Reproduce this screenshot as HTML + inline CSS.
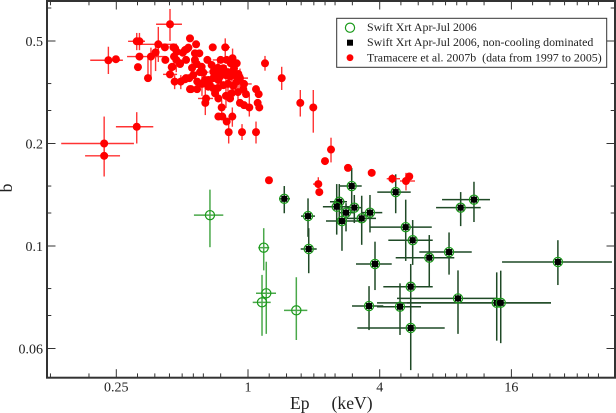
<!DOCTYPE html>
<html lang="en">
<head>
<meta charset="utf-8">
<title>b versus Ep</title>
<style>
html,body{margin:0;padding:0;background:#fff;}
svg{display:block;font-family:"Liberation Serif","Times New Roman",serif;}
text{fill:#222;white-space:pre;}
</style>
</head>
<body>
<svg id="chart" xmlns="http://www.w3.org/2000/svg" width="616" height="413" viewBox="0 0 616 413">
  <g id="marks"></g>
  <rect x="47" y="1" width="568" height="376.7" fill="none" stroke="#333" stroke-width="2"></rect>
  <g id="ticks"></g>
  <text x="290" y="409" font-size="17.6">Ep     (keV)</text>
  <text transform="translate(12,188) rotate(-90)" text-anchor="middle" font-size="17.6">b</text>
  <g>
    <rect x="336.7" y="18.3" width="270" height="49" fill="#fff" stroke="#333" stroke-width="1"></rect>
    <circle cx="350" cy="27.7" r="4.6" fill="none" stroke="#1a9a1a" stroke-width="1.2"></circle>
    <text x="367" y="31" font-size="11.9">Swift Xrt Apr-Jul 2006</text>
    <rect x="347" y="39.7" width="6" height="6" fill="#000"></rect>
    <text x="367" y="46" font-size="11.9">Swift Xrt Apr-Jul 2006, non-cooling dominated</text>
    <circle cx="350" cy="57.7" r="3.4" fill="#f00"></circle>
    <text x="367" y="61.5" font-size="11.9">Tramacere et al. 2007b  (data from 1997 to 2005)</text>
  </g>
</svg>
<script>
// Axis ticks and labels
const xMajorTicks = [0.25, 1, 4, 16];
const xMajorLabels = ["0.25", "1", "4", "16"];
const xMinorTicks = [0.125, 0.1875, 0.3125, 0.375, 0.4375, 0.5, 0.5625, 0.625, 0.75, 1.25, 1.5, 1.75, 2, 2.25, 2.5, 3, 5, 6, 7, 8, 9, 10, 12, 20, 24, 28, 32, 36, 40];
const yMajorTicks = [0.5, 0.25, 0.125, 0.0625];
const yMajorLabels = ["0.5", "0.2", "0.1", "0.06"];
const yMinorTicks = [0.625, 0.375, 0.3125, 0.1875, 0.15625, 0.09375, 0.078125];

// Swift XRT, all (green open circles) that are not in the non-cooling set
const greenEp = [0.670, 1.180, 1.212, 1.159, 1.663];
const greenB = [0.154, 0.1236, 0.0908, 0.0854, 0.0809];
const greenEpLo = [0.566, 1.114, 1.088, 1.051, 1.461];
const greenEpHi = [0.771, 1.251, 1.343, 1.270, 1.867];
const greenBLo = [0.124, 0.106, 0.0690, 0.0681, 0.0662];
const greenBHi = [0.183, 0.141, 0.1124, 0.1028, 0.1012];

// Swift XRT, non-cooling dominated (black squares inside green circles)
const blackEp = [1.465, 1.881, 1.895, 2.979, 4.734, 10.79, 9.38, 2.614, 2.544, 2.806, 3.062, 3.611, 3.31, 2.689, 5.26, 5.66, 8.30, 6.74, 3.807, 5.545, 9.12, 13.71, 14.30, 3.575, 4.953, 5.545, 26.1];
const blackB = [0.172, 0.153, 0.1225, 0.1875, 0.180, 0.171, 0.162, 0.1686, 0.163, 0.1566, 0.162, 0.1566, 0.1507, 0.148, 0.142, 0.130, 0.120, 0.1155, 0.1107, 0.0949, 0.0877, 0.0851, 0.0851, 0.0833, 0.0829, 0.0718, 0.1122];
const blackEpLo = [1.386, 1.747, 1.742, 2.614, 3.90, 7.71, 7.24, 2.37, 2.20, 2.633, 2.826, 3.31, 2.835, 2.273, 3.611, 4.38, 6.07, 4.734, 3.117, 4.155, 4.80, 3.888, 5.33, 2.989, 3.888, 3.16, 14.5];
const blackEpHi = [1.556, 2.024, 2.061, 3.31, 5.545, 12.77, 11.58, 2.835, 2.926, 3.084, 3.31, 4.11, 3.847, 3.31, 6.92, 6.99, 10.54, 8.77, 4.54, 6.99, 13.75, 24.27, 24.27, 4.155, 6.18, 7.93, 46.1];
const blackBLo = [0.156, 0.133, 0.104, 0.165, 0.156, 0.147, 0.143, 0.144, 0.135, 0.138, 0.146, 0.137, 0.126, 0.121, 0.113, 0.110, 0.103, 0.0949, 0.0928, 0.0793, 0.0690, 0.0659, 0.0648, 0.0708, 0.0685, 0.0540, 0.096];
const blackBHi = [0.1875, 0.1725, 0.141, 0.212, 0.203, 0.193, 0.180, 0.190, 0.190, 0.167, 0.1765, 0.1765, 0.1756, 0.163, 0.171, 0.149, 0.137, 0.1346, 0.1287, 0.1107, 0.106, 0.1046, 0.1058, 0.0953, 0.0971, 0.0827, 0.130];

// Tramacere et al. 2007b (red dots); 0 in an error array means no visible bar
const redEp = [0.230, 0.249, 0.440, 0.310, 0.319, 0.389, 0.319, 0.314, 0.349, 0.360, 0.378, 0.417, 0.419, 0.451, 0.440, 0.459, 0.462, 0.489, 0.493, 0.521, 0.521, 0.464, 0.503, 0.525, 0.543, 0.543, 0.310, 0.220, 0.220, 0.579, 0.690, 0.787, 1.196, 1.426, 0.456, 0.472, 0.489, 0.515, 0.534, 0.572, 0.599, 0.572, 0.583, 0.614, 0.652, 0.625, 0.448, 0.515, 0.539, 0.562, 0.586, 0.549, 0.585, 0.643, 0.638, 0.658, 0.658, 0.682, 0.694, 0.714, 0.745, 0.771, 0.799, 0.834, 0.888, 0.863, 0.903, 0.828, 0.888, 0.857, 0.771, 0.694, 0.707, 0.732, 0.828, 0.842, 0.952, 0.979, 1.088, 1.119, 0.919, 0.959, 1.014, 1.107, 1.126, 0.758, 0.732, 0.763, 0.848, 0.799, 0.816, 0.939, 1.088, 0.636, 0.670, 0.732, 0.694, 0.745, 0.810, 1.734, 1.988, 2.396, 2.249, 2.865, 3.677, 4.568, 1.247, 2.096, 2.118, 5.46, 5.275];
const redB = [0.439, 0.442, 0.560, 0.499, 0.499, 0.489, 0.450, 0.419, 0.389, 0.450, 0.463, 0.479, 0.440, 0.420, 0.399, 0.450, 0.380, 0.428, 0.380, 0.440, 0.389, 0.476, 0.462, 0.473, 0.509, 0.361, 0.280, 0.250, 0.230, 0.489, 0.479, 0.479, 0.430, 0.389, 0.479, 0.465, 0.430, 0.470, 0.478, 0.460, 0.460, 0.440, 0.428, 0.420, 0.440, 0.404, 0.419, 0.386, 0.389, 0.397, 0.380, 0.361, 0.361, 0.339, 0.329, 0.367, 0.384, 0.425, 0.406, 0.400, 0.406, 0.416, 0.440, 0.430, 0.430, 0.416, 0.400, 0.393, 0.380, 0.369, 0.371, 0.363, 0.351, 0.339, 0.339, 0.351, 0.361, 0.349, 0.361, 0.349, 0.329, 0.324, 0.319, 0.329, 0.319, 0.319, 0.300, 0.300, 0.300, 0.290, 0.270, 0.270, 0.270, 0.384, 0.371, 0.384, 0.389, 0.393, 0.405, 0.329, 0.319, 0.240, 0.222, 0.212, 0.205, 0.197, 0.195, 0.190, 0.180, 0.200, 0.194];
const redEpLo = [0.190, 0, 0.380, 0.283, 0.298, 0.311, 0.280, 0, 0, 0, 0, 0, 0, 0.431, 0.409, 0, 0, 0, 0, 0, 0, 0, 0, 0, 0, 0, 0.249, 0.140, 0.180, 0, 0, 0.758, 0, 0, 0, 0, 0, 0, 0, 0, 0, 0, 0, 0, 0, 0, 0, 0, 0, 0, 0, 0, 0, 0.591, 0, 0, 0, 0, 0, 0, 0, 0, 0, 0, 0, 0, 0, 0, 0, 0, 0, 0, 0, 0, 0, 0, 0, 0, 0, 0, 0, 0, 0, 0, 0, 0, 0, 0, 0, 0, 0, 0, 0, 0, 0, 0, 0, 0, 0, 0, 0, 0, 0, 0, 0, 4.306, 0, 1.982, 0, 0, 4.953];
const redEpHi = [0.268, 0, 0.499, 0.338, 0.338, 0.474, 0.417, 0, 0, 0, 0, 0, 0, 0.474, 0.474, 0, 0, 0, 0, 0, 0, 0, 0, 0, 0, 0, 0.369, 0.301, 0.260, 0, 0, 0.827, 0, 0, 0, 0, 0, 0, 0, 0, 0, 0, 0, 0, 0, 0, 0, 0, 0, 0, 0, 0, 0, 0.692, 0, 0, 0, 0, 0, 0, 0, 0, 0, 0, 0, 0, 0, 0, 0, 0, 0, 0, 0, 0, 0, 0, 0, 0, 0, 0, 0, 0, 0, 0, 0, 0, 0, 0, 0, 0, 0, 0, 0, 0, 0, 0, 0, 0, 0, 0, 0, 0, 0, 0, 0, 4.953, 0, 2.179, 0, 0, 5.80];
const redBLo = [0.400, 0, 0.500, 0.470, 0.470, 0.434, 0, 0, 0.389, 0.384, 0.408, 0, 0, 0, 0, 0, 0.361, 0, 0.361, 0, 0, 0, 0, 0, 0, 0, 0.250, 0.230, 0.200, 0, 0, 0.450, 0.409, 0.359, 0, 0, 0, 0, 0, 0, 0, 0, 0, 0, 0, 0, 0, 0, 0, 0, 0, 0, 0, 0, 0.303, 0, 0, 0, 0, 0, 0, 0, 0, 0, 0, 0, 0, 0, 0, 0, 0, 0, 0, 0, 0, 0, 0, 0, 0, 0, 0, 0, 0.300, 0, 0, 0.300, 0, 0, 0.280, 0, 0.250, 0.256, 0.250, 0, 0, 0, 0, 0, 0, 0.300, 0.269, 0.220, 0, 0, 0, 0.191, 0, 0.185, 0, 0, 0.182];
const redBHi = [0.481, 0, 0.621, 0.528, 0.528, 0.550, 0, 0, 0.455, 0.478, 0.497, 0, 0, 0, 0, 0, 0.397, 0, 0.397, 0, 0, 0, 0, 0, 0, 0, 0.309, 0.300, 0.250, 0, 0, 0.509, 0.452, 0.420, 0, 0, 0, 0, 0, 0, 0, 0, 0, 0, 0, 0, 0, 0, 0, 0, 0, 0, 0, 0, 0.364, 0, 0, 0, 0, 0, 0, 0, 0, 0, 0, 0, 0, 0, 0, 0, 0, 0, 0, 0, 0, 0, 0, 0, 0, 0, 0, 0, 0.347, 0, 0, 0.335, 0, 0, 0.319, 0, 0.290, 0.285, 0.290, 0, 0, 0, 0, 0, 0, 0.359, 0.359, 0.260, 0, 0, 0, 0.203, 0, 0.199, 0, 0, 0.205];

// Extra Tramacere dots inside the dense part of the cloud
const clusterEp = [0.729, 0.793, 0.872, 0.810, 0.919, 0.729, 0.845, 0.959, 0.793, 0.900, 0.603, 0.555, 0.616, 0.470, 0.750, 0.850];
const clusterB = [0.417, 0.397, 0.397, 0.374, 0.389, 0.364, 0.405, 0.374, 0.345, 0.354, 0.405, 0.417, 0.374, 0.440, 0.440, 0.445];
const clusterEpLo = [0.670, 0, 0.800, 0, 0.840, 0, 0, 0.880, 0, 0, 0.550, 0, 0, 0, 0.690, 0];
const clusterEpHi = [0.790, 0, 0.950, 0, 1.000, 0, 0, 1.040, 0, 0, 0.660, 0, 0, 0, 0.820, 0];
const clusterBLo = [0.390, 0.365, 0, 0.345, 0.360, 0.335, 0.375, 0, 0.318, 0.325, 0, 0.385, 0.345, 0.405, 0, 0.415];
const clusterBHi = [0.445, 0.425, 0, 0.400, 0.415, 0.390, 0.435, 0, 0.372, 0.385, 0, 0.445, 0.400, 0.475, 0, 0.475];

const SVG_NS = "http://www.w3.org/2000/svg";
const marks = document.getElementById("marks");
const ticks = document.getElementById("ticks");

function xScale(ep) { return 248 + 65.85 * Math.log2(ep); }
function yScale(b) { return 41 - 102.5 * (Math.log2(b) + 1); }

function makeLine(parent, x1, y1, x2, y2, color, width, name) {
  const el = document.createElementNS(SVG_NS, "line");
  el.setAttribute("x1", x1);
  el.setAttribute("y1", y1);
  el.setAttribute("x2", x2);
  el.setAttribute("y2", y2);
  el.setAttribute("stroke", color);
  el.setAttribute("stroke-width", width);
  
  
  parent.appendChild(el);
}

function makeCircle(cx, cy, r, fill, stroke, sw, name) {
  const el = document.createElementNS(SVG_NS, "circle");
  el.setAttribute("cx", cx);
  el.setAttribute("cy", cy);
  el.setAttribute("r", r);
  el.setAttribute("fill", fill);
  el.setAttribute("stroke", stroke);
  el.setAttribute("stroke-width", sw);
  
  
  marks.appendChild(el);
}

function makeLabel(x, y, str, anchor, name) {
  const el = document.createElementNS(SVG_NS, "text");
  el.setAttribute("x", x);
  el.setAttribute("y", y);
  el.setAttribute("text-anchor", anchor);
  el.setAttribute("font-size", "14");
  el.textContent = str;
  
  
  ticks.appendChild(el);
}

function drawBars(ep, b, epLo, epHi, bLo, bHi, color, width, name) {
  ep.forEach(function (v, i) {
    if (epLo[i] > 0) makeLine(marks, xScale(epLo[i]), yScale(b[i]), xScale(epHi[i]), yScale(b[i]), color, width, name + "-x-error");
    if (bLo[i] > 0) makeLine(marks, xScale(v), yScale(bLo[i]), xScale(v), yScale(bHi[i]), color, width, name + "-y-error");
  });
}

// x axis ticks, bottom and mirrored on top
xMajorTicks.forEach(function (v, i) {
  const x = xScale(v);
  makeLine(ticks, x, 377.7, x, 369.2, "#333", 1, "x-major-tick");
  makeLine(ticks, x, 1, x, 9.5, "#333", 1, "x-major-tick-top");
  makeLabel(x, 391.5, xMajorLabels[i], "middle", "x-tick-label");
});
xMinorTicks.forEach(function (v) {
  const x = xScale(v);
  makeLine(ticks, x, 377.7, x, 373.4, "#333", 1, "x-minor-tick");
  makeLine(ticks, x, 1, x, 5.3, "#333", 1, "x-minor-tick-top");
});

// y axis ticks, left and mirrored on right
yMajorTicks.forEach(function (v, i) {
  const y = yScale(v);
  makeLine(ticks, 47, y, 55.5, y, "#333", 1, "y-major-tick");
  makeLine(ticks, 615, y, 606.5, y, "#333", 1, "y-major-tick-right");
  makeLabel(43, y + 5.2, yMajorLabels[i], "end", "y-tick-label");
});
yMinorTicks.forEach(function (v) {
  const y = yScale(v);
  makeLine(ticks, 47, y, 51.3, y, "#333", 1, "y-minor-tick");
  makeLine(ticks, 615, y, 610.7, y, "#333", 1, "y-minor-tick-right");
});

// Green-only series
drawBars(greenEp, greenB, greenEpLo, greenEpHi, greenBLo, greenBHi, "#4aa84a", 1.5, "swift-xrt");
greenEp.forEach(function (v, i) {
  makeCircle(xScale(v), yScale(greenB[i]), 4.6, "none", "#1a9a1a", 1.2, "swift-xrt-point");
});

// Non-cooling series
drawBars(blackEp, blackB, blackEpLo, blackEpHi, blackBLo, blackBHi, "#1f4a26", 1.5, "non-cooling");
blackEp.forEach(function (v, i) {
  const x = xScale(v);
  const y = yScale(blackB[i]);
  makeCircle(x, y, 4.6, "none", "#1a9a1a", 1.2, "swift-xrt-point");
  const sq = document.createElementNS(SVG_NS, "rect");
  sq.setAttribute("x", x - 3);
  sq.setAttribute("y", y - 3);
  sq.setAttribute("width", 6);
  sq.setAttribute("height", 6);
  sq.setAttribute("fill", "#000");
  
  
  marks.appendChild(sq);
});

// Tramacere series
drawBars(redEp, redB, redEpLo, redEpHi, redBLo, redBHi, "#f33", 1.4, "tramacere");
drawBars(clusterEp, clusterB, clusterEpLo, clusterEpHi, clusterBLo, clusterBHi, "#f33", 1.4, "tramacere");
redEp.forEach(function (v, i) {
  makeCircle(xScale(v), yScale(redB[i]), 4, "#f00", "none", 0, "tramacere-point");
});
clusterEp.forEach(function (v, i) {
  makeCircle(xScale(v), yScale(clusterB[i]), 4, "#f00", "none", 0, "tramacere-point");
});
</script>
</body>
</html>
